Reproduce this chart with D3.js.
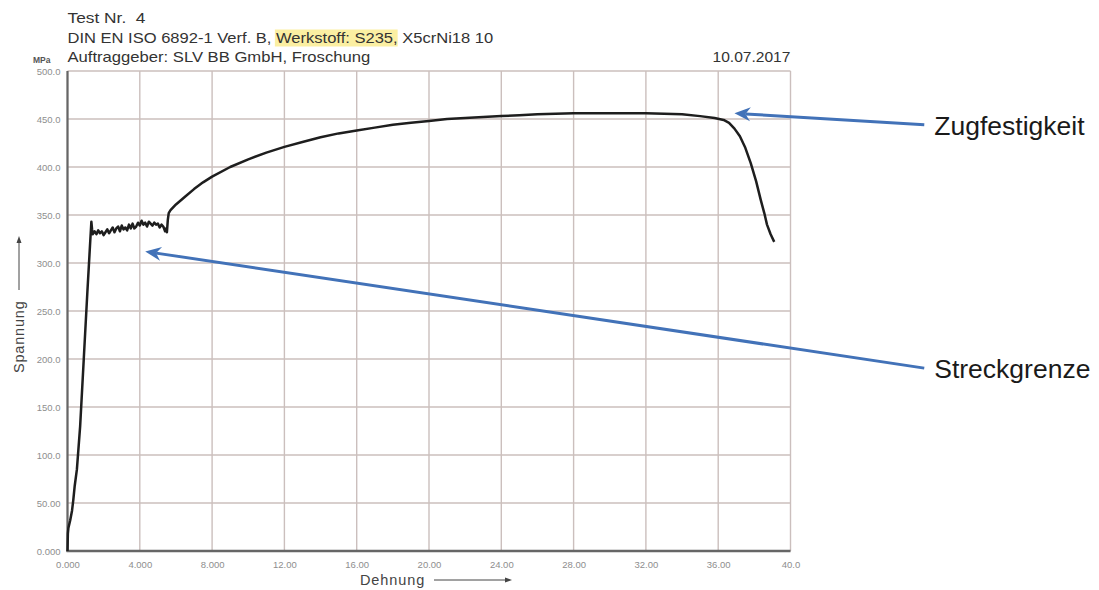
<!DOCTYPE html>
<html><head><meta charset="utf-8">
<script src="https://cdn.jsdelivr.net/npm/d3@7"></script>
<style>
html,body{margin:0;padding:0;background:#fff;}
svg{display:block;font-family:"Liberation Sans",Arial,sans-serif;}
</style></head>
<body>
<svg id="c" width="1099" height="590"></svg>
<script>
// ---- data ----
const strain = [0,0.02,0.05,0.15,0.25,0.32,0.40,0.52,0.7,0.9,1.1,1.25,1.32,1.36,1.40,
1.5,1.6,1.7,1.8,1.9,2.0,2.1,2.2,2.3,2.4,2.5,2.6,2.7,2.8,2.9,3.0,3.1,3.2,3.3,3.4,3.5,3.6,3.7,3.8,3.9,4.0,4.1,4.2,4.3,4.4,4.5,4.6,4.7,4.8,4.9,5.0,5.1,5.2,5.3,5.4,5.45,5.5,5.55,5.6,5.7,
6.0,6.5,7.0,7.5,8.0,9.0,10.0,11.0,12.0,13.0,14.0,15.0,16.0,17.0,18.0,19.0,20.0,21.0,22.0,23.0,24.0,25.0,26.0,27.0,28.0,29.0,30.0,31.0,32.0,33.0,34.0,35.0,35.8,36.3,36.6,36.9,37.2,37.5,37.8,38.1,38.35,38.55,38.7,38.9,39.1];
const stress = [0,18,24,32,42,53,68,85,130,200,270,320,343,335,330,
333,330,334,331,333,329,332,335,331,334,337,332,336,338,333,339,335,337,334,340,336,341,336,338,342,339,344,340,342,338,343,341,339,342,340,341,337,340,338,333,336,332,345,352,355,
361,369,377,384,390,400,408,415,421,426,431,435,438,441,444,446,448,450,451,452,453,454,455,455.5,456,456,456,456,456,455.5,455,453,451,449,446,440,432,420,404,385,366,352,340,330,322];
const xTicks = [0,4,8,12,16,20,24,28,32,36,40];
const xTickLabels = ["0.000","4.000","8.000","12.00","16.00","20.00","24.00","28.00","32.00","36.00","40.0"];
const yTicks = [0,50,100,150,200,250,300,350,400,450,500];
const yTickLabels = ["0.000","50.00","100.0","150.0","200.0","250.0","300.0","350.0","400.0","450.0","500.0"];
const headerLines = ["Test Nr.  4", "DIN EN ISO 6892-1 Verf. B, ", "Auftraggeber: SLV BB GmbH, Froschung"];
const highlightText = "Werkstoff: S235";
const afterHighlight = ", X5crNi18 10";
const dateText = "10.07.2017";
// annotations: [label, tip strain, tip stress, tail strain, tail stress]
const annotations = [
  ["Zugfestigkeit", 36.9, 456, 47.4, 444],
  ["Streckgrenze", 4.3, 312, 47.4, 190.5]
];

// ---- chart ----
const svg = d3.select("#c");
const x = d3.scaleLinear().domain([0,40]).range([67.5,790.5]);
const y = d3.scaleLinear().domain([0,500]).range([551,71]);
const gridColor = "#cbbfbd";

// grid
svg.append("g").selectAll("line").data(xTicks).join("line")
  .attr("x1",d=>x(d)).attr("x2",d=>x(d)).attr("y1",y(500)).attr("y2",y(0))
  .attr("stroke",gridColor).attr("stroke-width",1.4);
svg.append("g").selectAll("line").data(yTicks).join("line")
  .attr("x1",x(0)).attr("x2",x(40)).attr("y1",d=>y(d)).attr("y2",d=>y(d))
  .attr("stroke",gridColor).attr("stroke-width",1.4);

// axes (D3 axes with custom labels)
const xAxis = d3.axisBottom(x).tickValues(xTicks).tickFormat((d,i)=>xTickLabels[i]).tickSize(0).tickPadding(10);
const gx = svg.append("g").attr("transform",`translate(0,${y(0)})`).call(xAxis);
gx.select(".domain").remove();
gx.selectAll("text").attr("fill","#8e8e8e").attr("font-size","9.5px").style("font-family","Liberation Sans, Arial");
const yAxis = d3.axisLeft(y).tickValues(yTicks).tickFormat((d,i)=>yTickLabels[i]).tickSize(0).tickPadding(7);
const gy = svg.append("g").attr("transform",`translate(${x(0)},0)`).call(yAxis);
gy.select(".domain").remove();
gy.selectAll("text").attr("fill","#8e8e8e").attr("font-size","9.5px").style("font-family","Liberation Sans, Arial");

// axis lines
svg.append("line").attr("x1",x(0)).attr("x2",x(0)).attr("y1",y(500)).attr("y2",y(0)+1)
  .attr("stroke","#666").attr("stroke-width",2.2);
svg.append("line").attr("x1",x(0)-1).attr("x2",x(40)).attr("y1",y(0)).attr("y2",y(0))
  .attr("stroke","#666").attr("stroke-width",2.4);

// curve
const pts = strain.map((s,i)=>[s,stress[i]]);
svg.append("path").datum(pts)
  .attr("d", d3.line().x(d=>x(d[0])).y(d=>y(d[1])))
  .attr("fill","none").attr("stroke","#1e1e1e").attr("stroke-width",2.5).attr("stroke-linejoin","round");

// header: each line horizontally fitted to the scanned widths
function fitted(x0, yb, target, anchorEnd, build){
  const g = svg.append("g");
  const t = g.append("text").attr("x",0).attr("y",0).attr("font-size","14px").attr("fill","#333").style("white-space","pre");
  build(t);
  const w = t.node().getComputedTextLength();
  const k = target / w;
  const tx = anchorEnd ? x0 - target : x0;
  g.attr("transform",`translate(${tx},${yb}) scale(${k},1)`);
  return {g, t};
}
fitted(x(0), 23, 78, false, t=>t.text(headerLines[0]));
const l2 = fitted(x(0), 42.5, 426, false, t=>{
  t.append("tspan").text(headerLines[1]);
  t.append("tspan").text(highlightText);
  t.append("tspan").text(afterHighlight);
});
{
  const node = l2.t.node();
  const start = headerLines[1].length;
  const hx = node.getStartPositionOfChar(start).x;
  const hw = node.getSubStringLength(start, highlightText.length + 1);
  l2.g.insert("rect","text").attr("x",hx-1).attr("y",-13).attr("width",hw+1).attr("height",17).attr("fill","#fbefa2");
}
fitted(x(0), 62, 303, false, t=>t.text(headerLines[2]));
fitted(x(40), 62, 78, true, t=>t.text(dateText));

svg.append("text").attr("x",33).attr("y",63).attr("font-size","8.5px").attr("font-weight","bold").attr("fill","#555").text("MPa");

// axis titles
svg.append("text").attr("x",360).attr("y",585).attr("font-size","14.5px").attr("letter-spacing","0.9px").attr("fill","#444").text("Dehnung");
svg.append("line").attr("x1",434).attr("x2",508).attr("y1",580).attr("y2",580).attr("stroke","#444").attr("stroke-width",1);
svg.append("path").attr("d","M512,580 L505,577.5 L505,582.5 Z").attr("fill","#444");
svg.append("text").attr("transform","translate(24,373) rotate(-90)").attr("font-size","14.5px").attr("letter-spacing","0.8px").attr("fill","#444").text("Spannung");
svg.append("line").attr("x1",19).attr("x2",19).attr("y1",240).attr("y2",290).attr("stroke","#444").attr("stroke-width",1);
svg.append("path").attr("d","M19,236 L16.5,243 L21.5,243 Z").attr("fill","#444");

// annotations
const blue = "#4272b8";
annotations.forEach(a=>{
  const tx = x(a[1]), ty = y(a[2]), sx = x(a[3]), sy = y(a[4]);
  const ang = Math.atan2(ty-sy, tx-sx);
  const L = 16, W = 7, notch = 11;
  const bx = tx - Math.cos(ang)*notch, by = ty - Math.sin(ang)*notch;
  svg.append("line").attr("x1",sx).attr("y1",sy).attr("x2",bx).attr("y2",by)
    .attr("stroke",blue).attr("stroke-width",3);
  const px = -Math.sin(ang), py = Math.cos(ang);
  const bcx = tx - Math.cos(ang)*L, bcy = ty - Math.sin(ang)*L;
  svg.append("path").attr("d",`M${tx},${ty} L${bcx+px*W},${bcy+py*W} L${bx},${by} L${bcx-px*W},${bcy-py*W} Z`).attr("fill",blue);
  svg.append("text").attr("x",x(a[3])+10).attr("y",y(a[4])+10).attr("font-size","26.5px").attr("fill","#1a1a1a").text(a[0]);
});
</script>
</body></html>
